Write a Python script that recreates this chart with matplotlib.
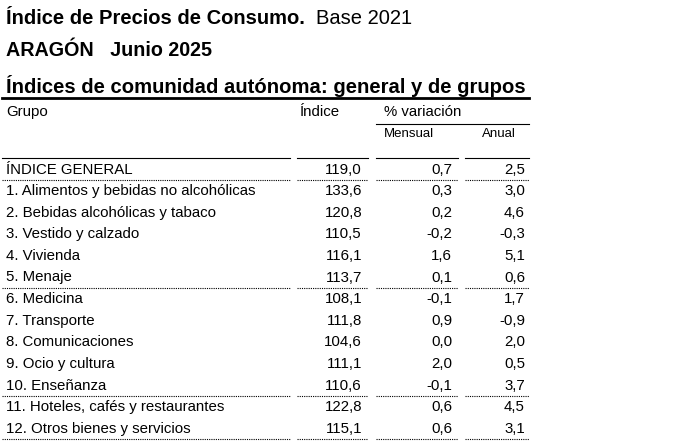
import matplotlib
matplotlib.use("Agg")
import matplotlib.pyplot as plt

grupos = ["ÍNDICE GENERAL", "1. Alimentos y bebidas no alcohólicas", "2. Bebidas alcohólicas y tabaco",
          "3. Vestido y calzado", "4. Vivienda", "5. Menaje", "6. Medicina", "7. Transporte",
          "8. Comunicaciones", "9. Ocio y cultura", "10. Enseñanza",
          "11. Hoteles, cafés y restaurantes", "12. Otros bienes y servicios"]
indice = [119.0, 133.6, 120.8, 110.5, 116.1, 113.7, 108.1, 111.8, 104.6, 111.1, 110.6, 122.8, 115.1]
mensual = [0.7, 0.3, 0.2, -0.2, 1.6, 0.1, -0.1, 0.9, 0.0, 2.0, -0.1, 0.6, 0.6]
anual = [2.5, 3.0, 4.6, -0.3, 5.1, 0.6, 1.7, -0.9, 2.0, 0.5, 3.7, 4.5, 3.1]
sep_after = [0, 5, 10, 12]

def fmt(v):
    return f"{v:.1f}".replace(".", ",")

FONT = "Liberation Sans"
BODY = 10.8
fig = plt.figure(figsize=(7, 4.42), dpi=100)
ax = fig.add_axes([0, 0, 1, 1])
ax.set_xlim(0, 700); ax.set_ylim(442, 0); ax.axis("off")

ax.text(6, 18, "Índice de Precios de Consumo.", fontfamily=FONT, fontsize=14.5, fontweight="bold", va="center")
ax.text(316, 18, "Base 2021", fontfamily=FONT, fontsize=14.5, va="center")
ax.text(6, 50, "ARAGÓN   Junio 2025", fontfamily=FONT, fontsize=14.2, fontweight="bold", va="center")
ax.text(6, 86, "Índices de comunidad autónoma: general y de grupos", fontfamily=FONT, fontsize=14.6, fontweight="bold", va="center")
ax.plot([2, 529], [98, 98], color="black", lw=2)

cols = [(2, 290), (297, 368), (376, 458), (465, 529)]
ax.text(6, 112, "Grupo", fontfamily=FONT, fontsize=BODY, va="center")
ax.text(300, 112, "Índice", fontfamily=FONT, fontsize=BODY, va="center")
ax.text(384, 112, "% variación", fontfamily=FONT, fontsize=BODY, va="center")
ax.plot([376, 529], [124, 124], color="black", lw=0.8)
ax.text(384, 134, "Mensual", fontfamily=FONT, fontsize=9.5, va="center")
ax.text(482, 134, "Anual", fontfamily=FONT, fontsize=9.5, va="center")
for a, b in cols:
    ax.plot([a, b], [158, 158], color="black", lw=0.8)

y0, dy = 169.5, 21.6
for i, g in enumerate(grupos):
    y = y0 + i * dy
    ax.text(6, y, g, fontfamily=FONT, fontsize=BODY, va="center")
    ax.text(362, y, fmt(indice[i]), fontfamily=FONT, fontsize=BODY, va="center", ha="right")
    ax.text(452, y, fmt(mensual[i]), fontfamily=FONT, fontsize=BODY, va="center", ha="right")
    ax.text(525, y, fmt(anual[i]), fontfamily=FONT, fontsize=BODY, va="center", ha="right")
    if i in sep_after:
        for a, b in cols:
            ax.plot([a, b], [y + 10.5, y + 10.5], color="black", lw=0.8, ls=(0, (1, 1)))

fig.savefig("out.png", dpi=100, facecolor="white")
